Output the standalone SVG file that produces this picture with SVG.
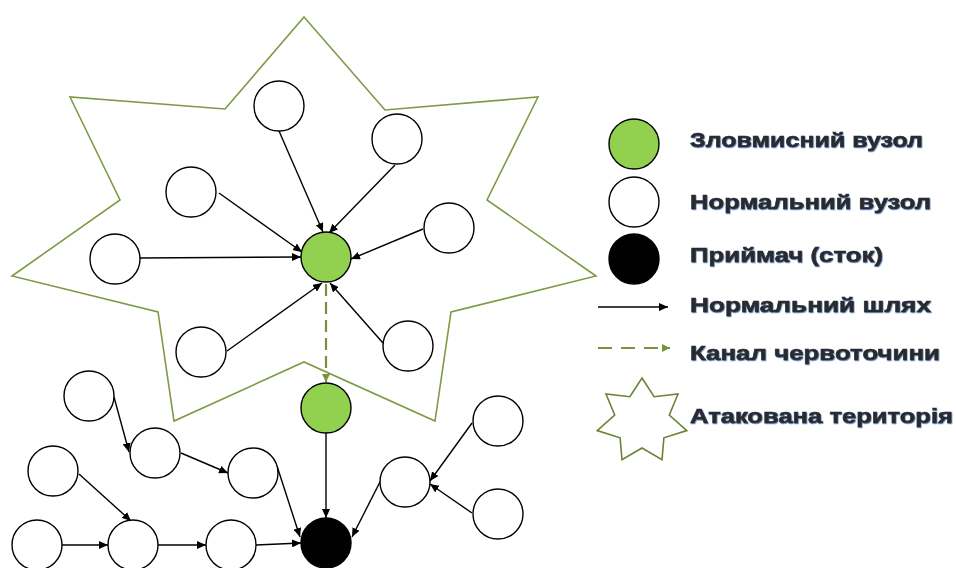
<svg xmlns="http://www.w3.org/2000/svg" width="956" height="568" viewBox="0 0 956 568">
<style>
.star{fill:none;stroke:#7D9B45;stroke-width:1.6;stroke-linejoin:miter}
.n{fill:#fff;stroke:#000;stroke-width:1.4}
.m{fill:#92D050;stroke:#000;stroke-width:1.4}
.s{fill:#000;stroke:#000;stroke-width:1.4}
.e{stroke:#000;stroke-width:1.4;fill:none;marker-end:url(#ah)}
.w{stroke:#77933C;stroke-width:2.2;fill:none;stroke-dasharray:12 6;marker-end:url(#gh)}
.t{font-family:"Liberation Sans",Arial,sans-serif;font-weight:bold;font-size:21px;fill:#2b2b2b;stroke:#2b2b2b;stroke-width:0.6;filter:url(#sh)}
</style>
<defs>
<marker id="ah" markerUnits="userSpaceOnUse" markerWidth="9" markerHeight="8" refX="9" refY="4" orient="auto"><path d="M0,0 L9,4 L0,8 z" fill="#000"/></marker>
<marker id="gh" markerUnits="userSpaceOnUse" markerWidth="8" markerHeight="8" refX="8" refY="4" orient="auto"><path d="M0,0 L8,4 L0,8 z" fill="#77933C"/></marker>
<filter id="sh" x="-5%" y="-30%" width="110%" height="160%"><feDropShadow dx="0.6" dy="0.9" stdDeviation="0.6" flood-color="#3c6db0" flood-opacity="0.8"/></filter>
</defs>

<g id="territory">
<polygon class="star" points="304,17 385,110 538,97 487,200 596,276 451,312 435,421 304,362 174,421 158,312 12,276 120,200 70,97 225,109"/>
</g>

<g id="connectors">
<line class="e" x1="279" y1="131" x2="323" y2="232"/>
<line class="e" x1="395" y1="165" x2="329" y2="233"/>
<line class="e" x1="219" y1="193" x2="302" y2="252"/>
<line class="e" x1="140" y1="258" x2="301" y2="257"/>
<line class="e" x1="423" y1="229" x2="351" y2="259"/>
<line class="e" x1="227" y1="351" x2="322" y2="283"/>
<line class="e" x1="383" y1="343" x2="330" y2="283"/>
<line class="w" x1="326" y1="284" x2="326" y2="382"/>
<line class="e" x1="326" y1="433" x2="326" y2="518"/>
<line class="e" x1="114" y1="397" x2="129" y2="452"/>
<line class="e" x1="181" y1="453" x2="228" y2="473"/>
<line class="e" x1="277" y1="466" x2="300" y2="537"/>
<line class="e" x1="79" y1="474" x2="131" y2="521"/>
<line class="e" x1="62" y1="545" x2="108" y2="545"/>
<line class="e" x1="158" y1="545" x2="206" y2="545"/>
<line class="e" x1="256" y1="545" x2="301" y2="543"/>
<line class="e" x1="381" y1="480" x2="352" y2="537"/>
<line class="e" x1="472" y1="423" x2="430" y2="481"/>
<line class="e" x1="472" y1="513" x2="430" y2="484"/>
</g>

<g id="n-top"><circle class="n" cx="279" cy="106" r="25"/></g>
<g id="n-ur"><circle class="n" cx="397" cy="139" r="25"/></g>
<g id="n-lm"><circle class="n" cx="191" cy="192" r="25"/></g>
<g id="n-l"><circle class="n" cx="115" cy="259" r="25"/></g>
<g id="n-r"><circle class="n" cx="449" cy="228" r="25"/></g>
<g id="n-ll"><circle class="n" cx="201" cy="352" r="25"/></g>
<g id="n-lr"><circle class="n" cx="408" cy="346" r="25"/></g>
<g id="mal-1"><circle class="m" cx="326" cy="257" r="25"/></g>
<g id="mal-2"><circle class="m" cx="326" cy="408" r="25"/></g>
<g id="sink"><circle class="s" cx="326" cy="543" r="25"/></g>
<g id="n-a"><circle class="n" cx="89" cy="396" r="25"/></g>
<g id="n-b"><circle class="n" cx="155" cy="453" r="25"/></g>
<g id="n-c"><circle class="n" cx="253" cy="473" r="25"/></g>
<g id="n-d"><circle class="n" cx="53" cy="471" r="25"/></g>
<g id="n-e"><circle class="n" cx="37" cy="545" r="25"/></g>
<g id="n-f"><circle class="n" cx="133" cy="545" r="25"/></g>
<g id="n-h"><circle class="n" cx="231" cy="545" r="25"/></g>
<g id="n-i"><circle class="n" cx="405" cy="482" r="25"/></g>
<g id="n-j"><circle class="n" cx="498" cy="421" r="25"/></g>
<g id="n-k"><circle class="n" cx="498" cy="514" r="25"/></g>

<g id="legend">
<circle class="m" cx="634" cy="144" r="25"/>
<circle class="n" cx="634" cy="202" r="25"/>
<circle class="s" cx="634" cy="259" r="25"/>
<line class="e" x1="598" y1="307" x2="668" y2="307"/>
<line class="w" x1="598" y1="348" x2="670" y2="348" style="stroke-dasharray:14 9"/>
<polygon class="star" style="stroke:#6A8435" points="642,378 654.1,396.7 678,394 669.3,415 686.8,430.6 663.9,437.8 662,459.7 642,448 622,459.7 620.1,437.8 597.2,430.6 614.7,415 606,394 629.9,396.7"/>
<text class="t" x="690" y="147" textLength="233" lengthAdjust="spacingAndGlyphs">Зловмисний вузол</text>
<text class="t" x="690" y="209" textLength="241" lengthAdjust="spacingAndGlyphs">Нормальний вузол</text>
<text class="t" x="690" y="262" textLength="193" lengthAdjust="spacingAndGlyphs">Приймач (сток)</text>
<text class="t" x="690" y="312" textLength="241" lengthAdjust="spacingAndGlyphs">Нормальний шлях</text>
<text class="t" x="690" y="360" textLength="250" lengthAdjust="spacingAndGlyphs">Канал червоточини</text>
<text class="t" x="690" y="423" textLength="263" lengthAdjust="spacingAndGlyphs">Атакована територія</text>
</g>
</svg>
